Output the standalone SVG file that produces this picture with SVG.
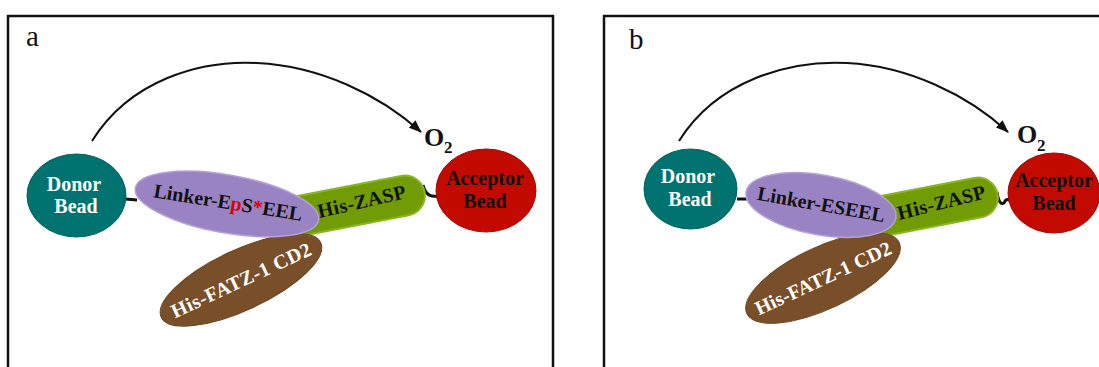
<svg xmlns="http://www.w3.org/2000/svg" width="1099" height="367" viewBox="0 0 1099 367">
<defs>
<style>
.frame{fill:none;stroke:#111;stroke-width:2.5}
.lbl{font-family:"Liberation Serif","Times New Roman",serif;font-size:29px;fill:#111}
.t{font-family:"Liberation Serif","Times New Roman",serif;font-weight:bold;font-size:20px;text-anchor:middle}
.w{fill:#fff}
.k{fill:#111}
.red{fill:#e00000}
.o2{font-family:"Liberation Serif","Times New Roman",serif;font-weight:bold;font-size:26px;fill:#111}
.sub{font-size:17px}
.donor{fill:#00726f;stroke:#02625f;stroke-width:1}
.acc{fill:#c20a00;stroke:#a80800;stroke-width:1}
.link{fill:#9a83c3;stroke:#b3a2d6;stroke-width:1.5}
.zasp{fill:#729c06;stroke:#8ab624;stroke-width:2}
.fatz{fill:#784f28;stroke:#6a4522;stroke-width:1}
.arc{fill:none;stroke:#111;stroke-width:2}
.tie{fill:none;stroke:#111;stroke-width:3}
</style>
<marker id="ah" viewBox="0 0 13 10" refX="12" refY="5" markerWidth="13" markerHeight="10" markerUnits="userSpaceOnUse" orient="auto">
<path d="M0,0 L13,5 L0,10 z" fill="#111"/>
</marker>
</defs>

<path class="frame" d="M8,368 V16 H553 V368"/>
<path class="frame" d="M604,368 V16 H1100"/>
<text class="lbl" x="26" y="46">a</text>
<text class="lbl" x="629" y="49">b</text>

<g id="connectors">
<path class="arc" d="M92,141 C130,80 200,60 257,63 C320,66 380,95 421,132" marker-end="url(#ah)"/>
<path class="tie" d="M125,199 L137,200"/>
<path class="tie" d="M423,185 Q426,198 437,196"/>
<path class="arc" d="M679,141 C717,80 790,60 847,63 C908,66 968,95 1008,132" marker-end="url(#ah)"/>
<path class="tie" d="M737,199 L747,199"/>
<path class="tie" d="M997,192 Q999,206 1004,203 Q1007,196 1012,203"/>
</g>

<g id="a-o2"><text class="o2" x="424" y="146">O<tspan class="sub" x="444" y="153">2</tspan></text></g>
<g id="a-donor">
<ellipse class="donor" cx="76.5" cy="195.5" rx="49.5" ry="41.5"/>
<text class="t w" x="74" y="191">Donor</text>
<text class="t w" x="76" y="213">Bead</text>
</g>
<g id="a-acceptor">
<ellipse class="acc" cx="486" cy="190.5" rx="50" ry="41.5"/>
<text class="t k" x="485" y="185">Acceptor</text>
<text class="t k" x="485" y="208">Bead</text>
</g>
<g id="a-zasp">
<rect class="zasp" x="266" y="187" width="160" height="40" rx="20" transform="rotate(-11 346 207)"/>
<text class="t k" x="363" y="208" textLength="90" transform="rotate(-13 363 208)">His-ZASP</text>
</g>
<g id="a-fatz">
<ellipse class="fatz" cx="241" cy="280" rx="88" ry="30" transform="rotate(-25 241 280)"/>
<text class="t w" x="241" y="287" textLength="152" transform="rotate(-25 241 280)">His-FATZ-1 CD2</text>
</g>
<g id="a-linker">
<ellipse class="link" cx="227" cy="204" rx="93" ry="29" transform="rotate(10 227 204)"/>
<text class="t k" x="227" y="209" textLength="150" transform="rotate(9 227 209)">Linker-E<tspan class="red">p</tspan>S<tspan class="red">*</tspan>EEL</text>
</g>

<g id="b-o2"><text class="o2" x="1017" y="143">O<tspan class="sub" x="1037" y="151">2</tspan></text></g>
<g id="b-donor">
<ellipse class="donor" cx="690.5" cy="189" rx="46.5" ry="40"/>
<text class="t w" x="688" y="183">Donor</text>
<text class="t w" x="690" y="206">Bead</text>
</g>
<g id="b-acceptor">
<ellipse class="acc" cx="1054" cy="193" rx="46" ry="40"/>
<text class="t k" x="1054" y="187">Acceptor</text>
<text class="t k" x="1054" y="210">Bead</text>
</g>
<g id="b-zasp">
<rect class="zasp" x="839" y="189" width="160" height="40" rx="20" transform="rotate(-11 919 209)"/>
<text class="t k" x="943" y="209" textLength="90" transform="rotate(-14 943 209)">His-ZASP</text>
</g>
<g id="b-fatz">
<ellipse class="fatz" cx="823" cy="278" rx="84" ry="31" transform="rotate(-25 823 278)"/>
<text class="t w" x="823" y="285" textLength="148" transform="rotate(-25 823 278)">His-FATZ-1 CD2</text>
</g>
<g id="b-linker">
<ellipse class="link" cx="821" cy="205" rx="76" ry="30" transform="rotate(10 821 205)"/>
<text class="t k" x="820" y="211" textLength="129" transform="rotate(10 820 211)">Linker-ESEEL</text>
</g>
</svg>
